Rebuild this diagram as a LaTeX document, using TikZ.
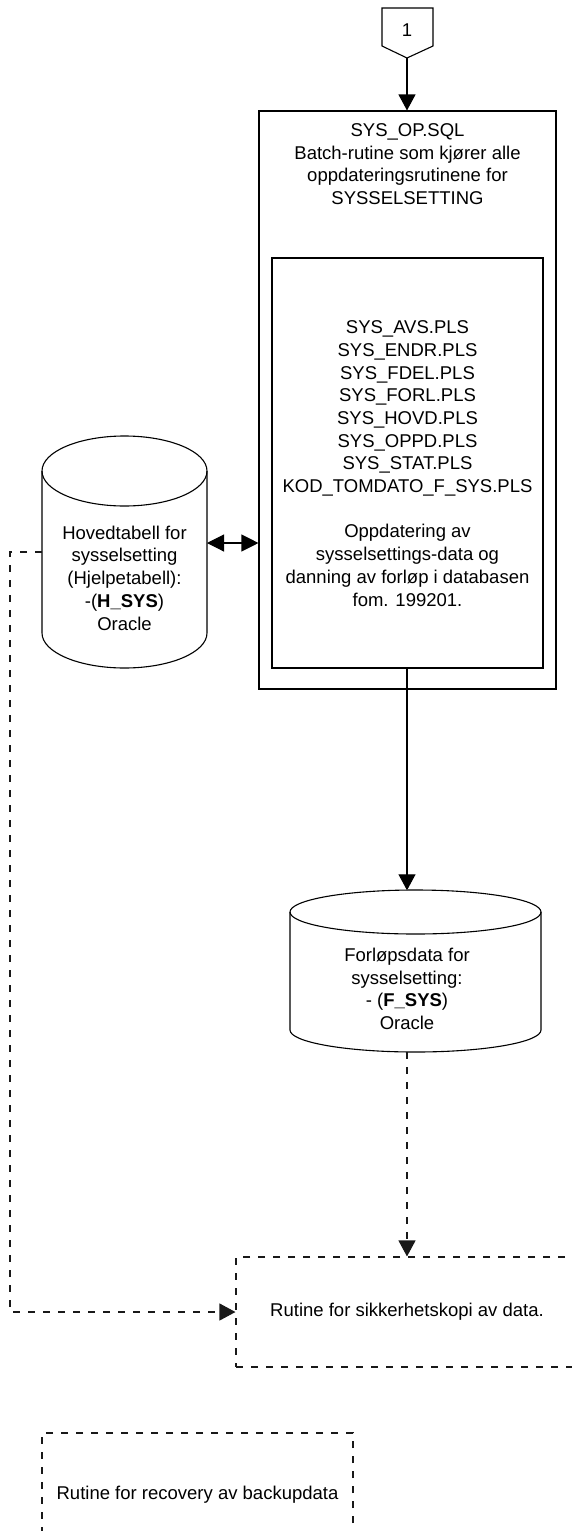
\documentclass[tikz,border=0pt]{standalone}
\usepackage{fontspec}
\setmainfont{Liberation Sans}
\usetikzlibrary{arrows.meta}
\begin{document}
\begin{tikzpicture}[x=1pt,y=1pt,
  solidline/.style={line width=1.1pt, draw=black},
  dashline/.style={line width=1.1pt, draw=black!90, dash pattern=on 7pt off 8pt},
  tip/.style={-{Triangle[length=16pt,width=17pt]}},
  dtip/.style={{Triangle[length=17pt,width=17pt]}-{Triangle[length=17pt,width=17pt]}},
  txt/.style={align=center, font=\fontsize{18.5}{22.7}\selectfont, inner sep=0pt},
  boxstyle/.style={draw, solidline, inner sep=0pt}]
\useasboundingbox (0,0) rectangle (571,-1531);
\fill[white] (0,0) rectangle (571,-1531);

% off-page connector
\draw[solidline] (382,-8) -- (433,-8) -- (433,-46) -- (407,-58) -- (382,-46) -- cycle;
\node[txt] (c1) at (407,-30) {1};
\coordinate (c1tip) at (407,-58);

% outer and inner boxes
\node[boxstyle, minimum width=297pt, minimum height=578pt] (outer) at (407.5,-400) {};
\node[boxstyle, minimum width=271pt, minimum height=410pt] (inner) at (407.5,-463) {};
\draw[solidline,tip] (c1tip) -- (c1tip |- outer.north);

\node[txt] (outertxt) at (407.5,-164) {SYS\_OP.SQL\\Batch-rutine som kjører alle\\oppdateringsrutinene for\\SYSSELSETTING};
\node[txt] (innertxt) at (407.5,-463.5) {SYS\_AVS.PLS\\SYS\_ENDR.PLS\\SYS\_FDEL.PLS\\SYS\_FORL.PLS\\SYS\_HOVD.PLS\\SYS\_OPPD.PLS\\SYS\_STAT.PLS\\KOD\_TOMDATO\_F\_SYS.PLS\\[22.7pt]Oppdatering av\\sysselsettings-data og\\danning av forløp i databasen\\fom. 199201.};

% H_SYS cylinder
\draw[solidline] (124.5,-471) ellipse [x radius=82.5, y radius=35];
\draw[solidline] (42,-471) -- (42,-633) arc[start angle=180, end angle=360, x radius=82.5, y radius=35] -- (207,-471);
\coordinate (hsysE) at (207,-543);
\coordinate (hsysW) at (42,-552);
\node[txt] (hsystxt) at (124.5,-578) {Hovedtabell for\\sysselsetting\\(Hjelpetabell):\\-(\textbf{H\_SYS})\\Oracle};
\draw[solidline,dtip] (hsysE) -- (hsysE -| outer.west);

% F_SYS cylinder
\draw[solidline] (415.5,-912) ellipse [x radius=125.5, y radius=22];
\draw[solidline] (290,-912) -- (290,-1030) arc[start angle=180, end angle=360, x radius=125.5, y radius=22] -- (541,-912);
\coordinate (fsysN) at (407,-890.3);
\coordinate (fsysS) at (407,-1052);
\node[txt] (fsystxt) at (407,-989) {Forløpsdata for\\sysselsetting:\\- (\textbf{F\_SYS})\\Oracle};
\draw[solidline,tip] (inner.south -| fsysN) -- (fsysN);

% backup boxes
\node[draw, dashline, txt, minimum width=342pt, minimum height=110pt] (backup) at (407,-1312) {Rutine for sikkerhetskopi av data.};
\node[draw, dashline, txt, minimum width=311pt, minimum height=124pt] (recovery) at (197.5,-1495) {Rutine for recovery av backupdata};

\draw[dashline,tip] (fsysS) -- (fsysS |- backup.north);
\draw[dashline,tip] (hsysW) -- ++(-32,0) |- (backup.west);
\end{tikzpicture}
\end{document}
